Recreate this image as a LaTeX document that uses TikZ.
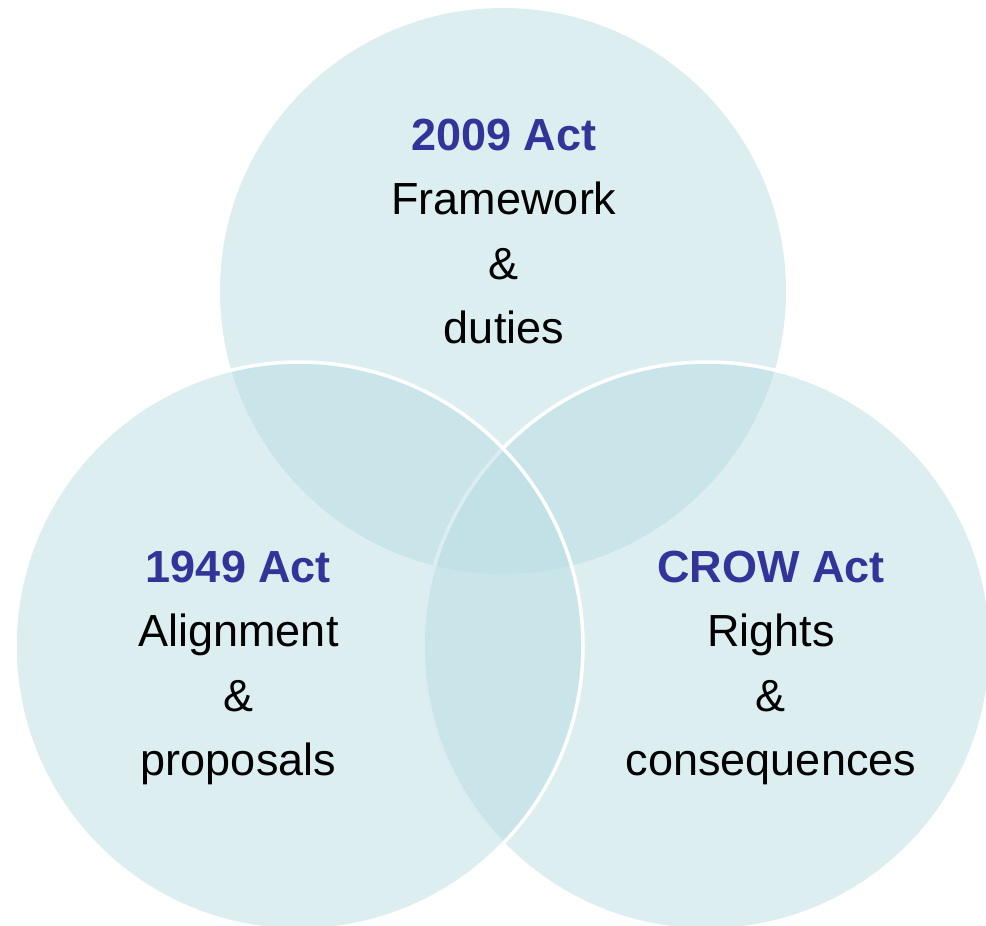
\documentclass[tikz,border=0pt]{standalone}
\usepackage{fontspec}
\setmainfont{Liberation Sans}
\definecolor{venn}{RGB}{185,221,226}
\definecolor{titleblue}{RGB}{51,51,153}
\begin{document}
\begin{tikzpicture}[x=1pt,y=-1pt,
  vcircle/.style={fill=venn,fill opacity=0.5},
  vout/.style={draw=white,line width=3.5pt},
  ttl/.style={anchor=base,inner sep=0pt,font=\fontsize{45}{52}\selectfont\bfseries,text=titleblue},
  txt/.style={anchor=base,inner sep=0pt,font=\fontsize{45}{52}\selectfont,text=black}]
\useasboundingbox (0,0) rectangle (986,926);
\begin{scope}
\clip (0,0) rectangle (986,926);
\fill[vcircle] (503,291) circle[radius=283];
\path[vcircle,vout] (707,646) circle[radius=284];
\path[vcircle,vout] (299,646) circle[radius=284];
\end{scope}
% top
\node[ttl] (t1) at (504,150) {2009 Act};
\node[txt] (t2) at (504,214.5) {Framework};
\node[txt] (t3) at (504,279) {\&};
\node[txt] (t4) at (504,343.5) {duties};
% left
\node[ttl] (l1) at (238.5,582) {1949 Act};
\node[txt] (l2) at (238.5,646.5) {Alignment};
\node[txt] (l3) at (238.5,711) {\&};
\node[txt] (l4) at (238.5,775.5) {proposals};
% right
\node[ttl] (r1) at (771,582) {CROW Act};
\node[txt] (r2) at (771,646.5) {Rights};
\node[txt] (r3) at (771,711) {\&};
\node[txt] (r4) at (771,775.5) {consequences};
\end{tikzpicture}
\end{document}
